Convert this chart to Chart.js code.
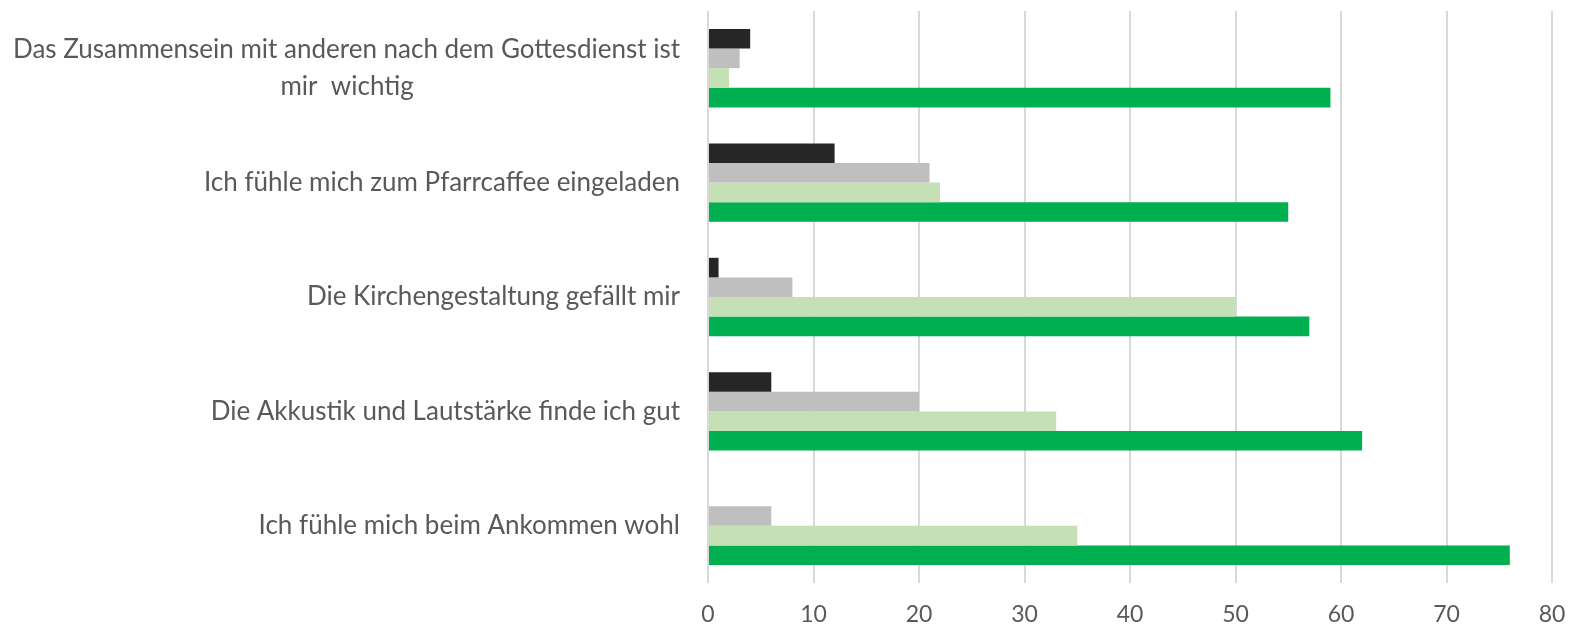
<!DOCTYPE html>
<html>
<head>
<meta charset="utf-8">
<title>Gottesdienst Umfrage</title>
<script src="https://cdn.jsdelivr.net/npm/chart.js@4/dist/chart.umd.min.js"></script>
<style>
  html, body { margin: 0; padding: 0; background: #fff; }
  #chartBox { width: 1570px; height: 626px; }
</style>
</head>
<body>
<div id="chartBox"><canvas id="myChart"></canvas></div>
<script>
'use strict';

//data
var categories = [
  ['Das Zusammensein mit anderen nach dem Gottesdienst ist', 'mir  wichtig'],
  'Ich fühle mich zum Pfarrcaffee eingeladen',
  'Die Kirchengestaltung gefällt mir',
  'Die Akkustik und Lautstärke finde ich gut',
  'Ich fühle mich beim Ankommen wohl'
];
var seriesNames = ['Serie 1', 'Serie 2', 'Serie 3', 'Serie 4'];
var seriesOne = [4, 12, 1, 6, 0];
var seriesTwo = [3, 21, 8, 20, 6];
var seriesThree = [2, 22, 50, 33, 35];
var seriesFour = [59, 55, 57, 62, 76];
var xTicks = [0, 10, 20, 30, 40, 50, 60, 70, 80];

var barColors = ['#262626', '#bfbfbf', '#c5e0b4', '#00b050'];
var textColor = '#595959';
var labelFont = '26px Lato';

// pad the second line so it sits centered under the first one
var measureCtx = document.createElement('canvas').getContext('2d');
function centerLines(label) {
  if (!Array.isArray(label)) {
    return label;
  }
  measureCtx.font = labelFont;
  var first = measureCtx.measureText(label[0]).width;
  var out = [label[0]];
  for (var i = 1; i < label.length; i++) {
    var text = label[i];
    var target = (first + measureCtx.measureText(text).width) / 2;
    while (measureCtx.measureText(text + ' ').width <= target) {
      text += ' ';
    }
    out.push(text);
  }
  return out;
}

function makeDataset(i, values) {
  return {
    label: seriesNames[i],
    data: values,
    backgroundColor: barColors[i],
    borderWidth: 0
  };
}

function makeChart() {
  var ctx = document.getElementById('myChart').getContext('2d');
  var chart = new Chart(ctx, {
    type: 'bar',
    data: {
      labels: categories.map(centerLines),
      datasets: [
        makeDataset(0, seriesOne),
        makeDataset(1, seriesTwo),
        makeDataset(2, seriesThree),
        makeDataset(3, seriesFour)
      ]
    },
    options: {
      indexAxis: 'y',
      responsive: true,
      maintainAspectRatio: false,
      animation: false,
      categoryPercentage: 0.685,
      barPercentage: 1,
      layout: { padding: { top: 11, right: 18, bottom: 0, left: 0 } },
      plugins: {
        legend: { display: false },
        tooltip: { enabled: false }
      },
      scales: {
        x: {
          min: 0,
          max: 80,
          afterBuildTicks: function (scale) {
            scale.ticks = xTicks.map(function (v) { return { value: v }; });
          },
          afterFit: function (scale) {
            scale.height = 43;
            scale.paddingLeft = 0;
            scale.paddingRight = 0;
          },
          grid: { color: '#d9d9d9', lineWidth: 2, drawTicks: false },
          border: { display: false },
          ticks: {
            color: textColor,
            font: { family: 'Lato', size: 23, lineHeight: 1 },
            padding: 20
          }
        },
        y: {
          afterFit: function (scale) {
            scale.width = 708;
            scale.paddingTop = 0;
            scale.paddingBottom = 0;
          },
          grid: { display: false, drawTicks: false },
          border: { display: false },
          ticks: {
            color: textColor,
            font: { family: 'Lato', size: 26, lineHeight: 1.42 },
            padding: 28
          }
        }
      }
    }
  });
}

makeChart();
</script>
</body>
</html>
